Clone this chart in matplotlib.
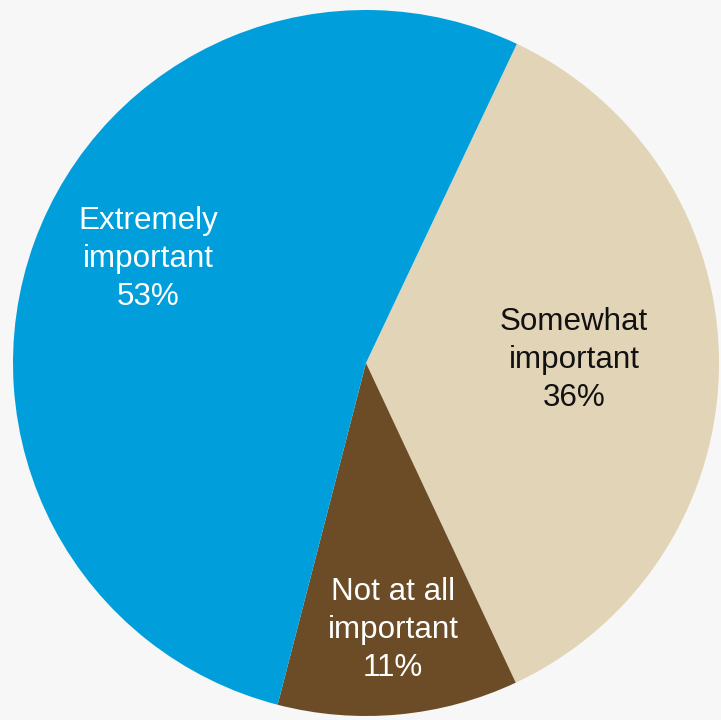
import matplotlib.pyplot as plt

# survey shares, drawn clockwise from the top-right boundary
labels = ['Somewhat\nimportant', 'Not at all\nimportant', 'Extremely\nimportant']
shares = [36, 11, 53]
colors = ['#e2d4b7', '#6b4c26', '#009fdb']
text_colors = ['#111111', 'white', 'white']
# label offsets from the pie centre, in pixels
label_offsets = [(208, 3), (27, -267), (-218, 104)]

plt.rcParams['font.family'] = ['Liberation Sans', 'DejaVu Sans']

fig = plt.figure(figsize=(7.21, 7.2), dpi=100, facecolor='#f7f7f7')
ax = fig.add_axes([0, 0, 1, 1])
ax.set_facecolor('#f7f7f7')

cx, cy, r = 366, 357, 353
wedges, _ = ax.pie(shares, colors=colors, startangle=64.7, counterclock=False,
                   center=(cx, cy), radius=r,
                   wedgeprops=dict(linewidth=0, antialiased=True))

for lab, val, tc, (dx, dy) in zip(labels, shares, text_colors, label_offsets):
    ax.text(cx + dx, cy + dy, f'{lab}\n{val}%', ha='center', va='center',
            color=tc, fontsize=22.6, linespacing=1.33)

ax.set_xlim(0, 721)
ax.set_ylim(0, 720)
ax.set_aspect('equal')
ax.axis('off')

fig.savefig('out.png', dpi=100, facecolor=fig.get_facecolor())
